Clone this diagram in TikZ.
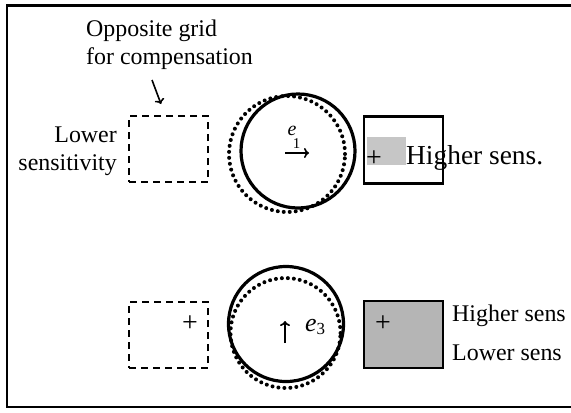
\documentclass[tikz,border=0pt]{standalone}
\usepackage{fontspec}
\setmainfont{Liberation Serif}
\usetikzlibrary{arrows.meta}
\begin{document}
\begin{tikzpicture}[x=1bp,y=-1bp,
  txt/.style={font=\fontsize{24}{24}\selectfont, inner sep=0pt},
  bigtxt/.style={font=\fontsize{27.5}{27.5}\selectfont, inner sep=0pt},
  solidc/.style={circle, draw, line width=3.2bp, inner sep=0pt},
  dotc/.style={circle, draw, line width=4bp, dash pattern=on 0bp off 6bp, line cap=round, inner sep=0pt},
  dbox/.style={rectangle, draw, line width=2.8bp, dash pattern=on 7bp off 5bp, inner sep=0pt, minimum width=79bp, minimum height=66bp},
  sbox/.style={rectangle, draw, line width=2.2bp, inner sep=0pt, minimum width=79bp, minimum height=67bp},
  plus/.style={font=\fontsize{28}{28}\selectfont, inner sep=0pt},
  arr/.style={line width=1.6bp, -{To[length=5bp,width=10bp]}}
]
\useasboundingbox (0,0) rectangle (571,412);
% frame
\draw[line width=2.6bp] (571,5.5) -- (7,5.5) -- (7,407) -- (571,407);

% top annotation
\node[txt, anchor=base west] (t1) at (86,36) {Opposite grid};
\node[txt, anchor=base west] (t2) at (86,64) {for compensation};
\coordinate (a1) at (152,80);
\coordinate (a2) at (161,104);
\draw[arr] (a1) -- (a2);

% row 1
\node[dbox] (d1) at (168.5,149) {};
\node[txt, anchor=base east] (l1) at (117,142) {Lower};
\node[txt, anchor=base east] (l2) at (117,170) {sensitivity};
\node[dotc, minimum size=116bp] (c1d) at (287,154) {};
\node[solidc, minimum size=114bp] (c1s) at (298,151) {};
\node[inner sep=0pt, font=\fontsize{20}{20}\selectfont\itshape] (e1) at (292,131) {e};
\node[inner sep=0pt, font=\fontsize{15}{15}\selectfont] (e1s) at (296.5,144) {1};
\coordinate (r1) at (285,153);
\coordinate (r2) at (309,153);
\draw[arr] (r1) -- (r2);
\fill[gray!45] (367,137) rectangle (406,165);
\node[sbox] (b1) at (403.5,150) {};
\node[plus] (p1) at (374,159) {+};
\node[bigtxt, anchor=base west] (h1) at (406,164) {Higher sens.};

% row 2
\node[dbox] (d2) at (168.5,335) {};
\node[plus] (p2) at (190,324) {+};
\node[dotc, minimum size=110bp] (c2d) at (285.5,333) {};
\node[solidc, minimum size=115bp] (c2s) at (286,324) {};
\coordinate (u1) at (285,343);
\coordinate (u2) at (285,321);
\draw[arr] (u1) -- (u2);
\node[inner sep=0pt, font=\fontsize{26}{26}\selectfont, anchor=base west] (e3) at (305,331) {\textit{e}\raisebox{-3bp}{\fontsize{17}{17}\selectfont 3}};
\node[sbox, fill=gray!58] (b2) at (403.5,334.5) {};
\node[plus] (p3) at (383,324) {+};
\node[txt, anchor=base west] (h2) at (452,321) {Higher sens};
\node[txt, anchor=base west] (h3) at (452,360) {Lower sens};
\end{tikzpicture}
\end{document}
